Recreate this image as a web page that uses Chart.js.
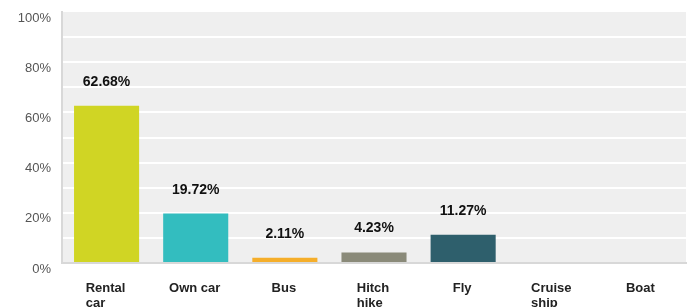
<!DOCTYPE html>
<html>
<head>
<meta charset="utf-8">
<script src="https://cdn.jsdelivr.net/npm/chart.js@4"></script>
<style>
  html, body { margin: 0; padding: 0; background: #fff; }
  #wrap { width: 691px; height: 307px; }
</style>
</head>
<body>
<div id="wrap"><canvas id="chart"></canvas></div>
<script>
const categories = [['Rental', 'car'], ['Own car'], ['Bus'], ['Hitch', 'hike'], ['Fly'], ['Cruise', 'ship'], ['Boat']];
const percentages = [62.68, 19.72, 2.11, 4.23, 11.27, 0, 0];
const barColors = ['#d0d524', '#33bdbf', '#f5ae2a', '#8a8a79', '#2e5f6c', '#999999', '#999999'];
const yTicks = [0, 20, 40, 60, 80, 100];

// grey plot background
const plotBackground = {
    id: 'plotBackground',
    beforeDraw(chart) {
        const { ctx, chartArea: a } = chart;
        ctx.save();
        ctx.fillStyle = '#efefef';
        ctx.fillRect(a.left, a.top, a.right - a.left, a.bottom - a.top);
        ctx.restore();
    }
};

// value labels above bars, left-aligned category labels, y tick labels
const textLabels = {
    id: 'textLabels',
    afterDatasetsDraw(chart) {
        const { ctx } = chart;
        const meta = chart.getDatasetMeta(0);
        ctx.save();
        ctx.fillStyle = '#111';
        ctx.font = 'bold 14px "Liberation Sans", Arial, sans-serif';
        ctx.textAlign = 'center';
        ctx.textBaseline = 'alphabetic';
        meta.data.forEach((bar, i) => {
            if (!percentages[i]) return;
            ctx.fillText(percentages[i].toFixed(2) + '%', bar.x, bar.y - 20);
        });

        ctx.font = 'bold 13px "Liberation Sans", Arial, sans-serif';
        ctx.textAlign = 'left';
        ctx.fillStyle = '#222';
        const base = chart.chartArea.bottom + 29;
        meta.data.forEach((bar, i) => {
            const lines = categories[i];
            const w = Math.max(...lines.map(l => ctx.measureText(l).width));
            const x0 = bar.x - w / 2 - 1;
            lines.forEach((l, j) => ctx.fillText(l, x0, base + j * 15));
        });

        const y = chart.scales.y;
        ctx.font = '13px "Liberation Sans", Arial, sans-serif';
        ctx.textAlign = 'right';
        ctx.textBaseline = 'middle';
        ctx.fillStyle = '#555';
        yTicks.forEach(v => ctx.fillText(v + '%', 51, y.getPixelForValue(v) + 6));
        ctx.restore();
    }
};

new Chart(document.getElementById('chart'), {
    type: 'bar',
    data: {
        labels: categories.map(c => c.join(' ')),
        datasets: [{
            data: percentages,
            backgroundColor: barColors,
            borderWidth: 0,
            categoryPercentage: 0.73,
            barPercentage: 1
        }]
    },
    options: {
        responsive: true,
        maintainAspectRatio: false,
        animation: false,
        layout: { padding: { top: 12, right: 5, left: 0, bottom: 0 } },
        plugins: {
            legend: { display: false },
            tooltip: { enabled: false }
        },
        scales: {
            x: {
                grid: { display: false },
                border: { color: '#d8d8d8', width: 2 },
                ticks: { display: false },
                afterFit(scale) { scale.height = 44; }
            },
            y: {
                min: 0,
                max: 100,
                ticks: {
                    display: false,
                    stepSize: 10
                },
                grid: {
                    color: ctx => ctx.tick && ctx.tick.value === 100 ? 'rgba(0,0,0,0)' : '#ffffff',
                    lineWidth: 2,
                    drawTicks: false
                },
                border: { color: '#d8d8d8', width: 2 },
                afterFit(scale) { scale.width = 62; }
            }
        }
    },
    plugins: [plotBackground, textLabels]
});
</script>
</body>
</html>
